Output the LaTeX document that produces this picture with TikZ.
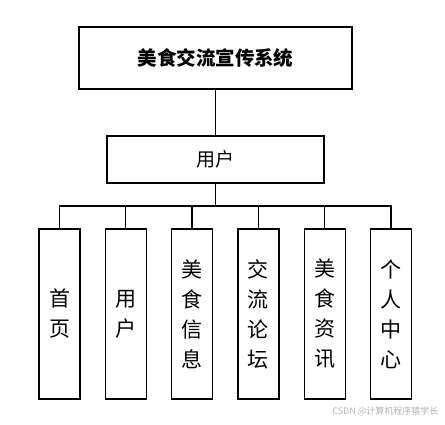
\documentclass[tikz,border=0pt]{standalone}
\usepackage{fontspec}
\setmainfont{Noto Sans CJK SC}
\usetikzlibrary{positioning}

\begin{document}
\begin{tikzpicture}[
    x=1pt, y=-1pt,
    node distance=24pt,
    box/.style={draw, line width=1.3pt, inner sep=0pt, align=center},
    topbox/.style={box, minimum width=273pt, minimum height=62pt, font=\fontsize{19.5}{22}\selectfont\bfseries},
    userbox/.style={box, minimum width=217pt, minimum height=47pt, font=\fontsize{19}{22}\selectfont},
    leaf/.style={box, minimum width=41pt, minimum height=170pt, font=\fontsize{21}{30}\selectfont},
    link/.style={line width=1.3pt}
]
\useasboundingbox (0,0) rectangle (445,425);

% Top levels
\node[topbox] (sys) at (215.5,58) {美食交流宣传系统};
\node[userbox] (user) at (215.5,159.5) {用户};
\draw[link] (sys) -- (user);

% Function modules
\node[leaf] (home) at (59.5,314) {首\\页};
\node[leaf, right=of home] (usr) {用\\户};
\node[leaf, right=of usr] (food) {美\\食\\信\\息};
\node[leaf, right=of food] (forum) {交\\流\\论\\坛};
\node[leaf, right=of forum] (news) {美\\食\\资\\讯};
\node[leaf, right=of news] (center) {个\\人\\中\\心};

% Bus between user and modules
\coordinate (bus) at (215.5,206);
\draw[link] (user) -- (bus);
\draw[link] (home.north) |- (bus) -| (center.north);
\draw[link] (usr.north) -- (usr.north |- bus);
\draw[link] (food.north) -- (food.north |- bus);
\draw[link] (forum.north) -- (forum.north |- bus);
\draw[link] (news.north) -- (news.north |- bus);

% Watermark
\node[anchor=east, text=black!30, font=\fontsize{9}{10}\selectfont] (mark) at (442,411) {CSDN @计算机程序猿学长};
\end{tikzpicture}
\end{document}
